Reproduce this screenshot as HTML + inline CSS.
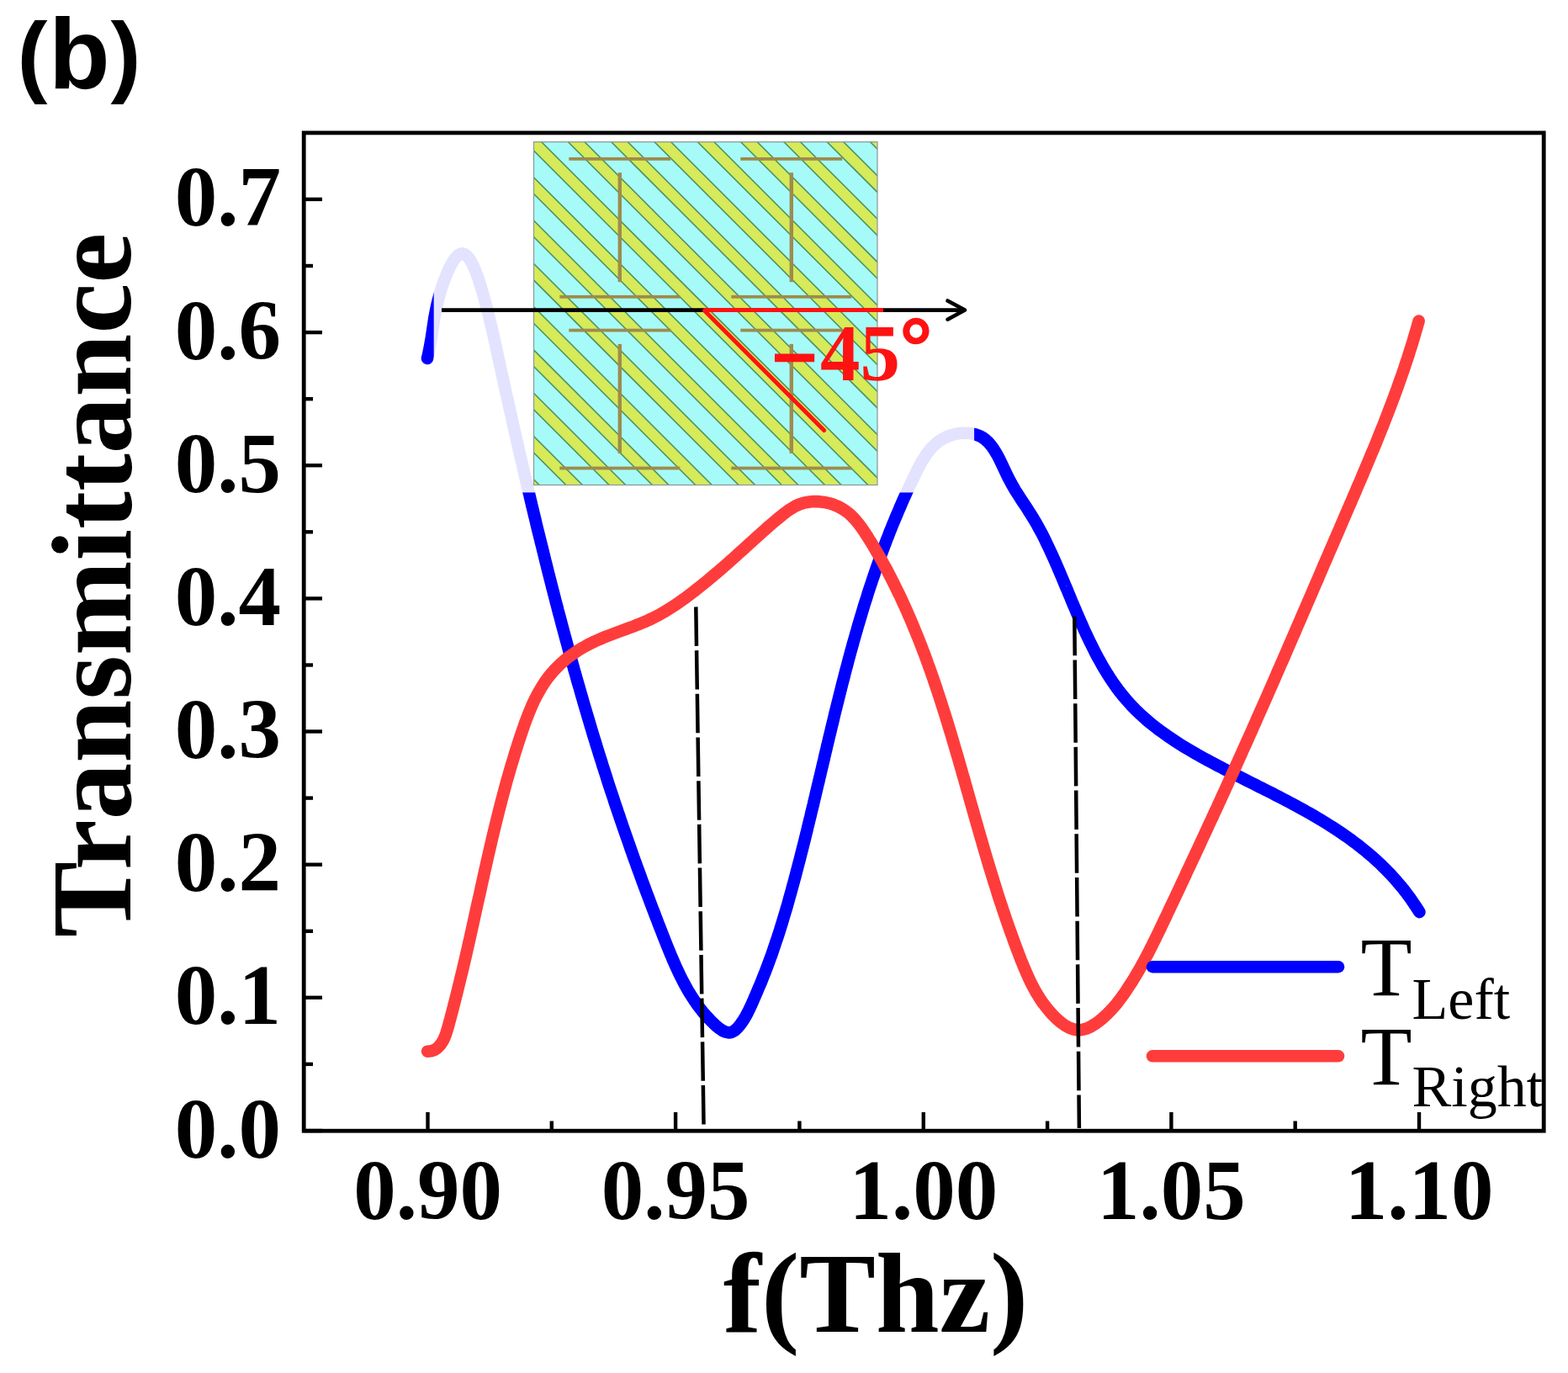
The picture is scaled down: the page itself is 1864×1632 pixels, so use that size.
<!DOCTYPE html>
<html><head><meta charset="utf-8"><title>Transmittance plot</title>
<style>html,body{margin:0;padding:0;background:#fff;}svg{display:block;}</style>
</head><body>
<svg xmlns="http://www.w3.org/2000/svg" width="1864" height="1632" viewBox="0 0 1864 1632">
<defs>
<clipPath id="ins"><rect x="634.5" y="168.7" width="408.5" height="407.8"/></clipPath>
</defs>
<rect x="0" y="0" width="1864" height="1632" fill="#fff"/>
<path d="M508.0,426.0 L509.2,420.9 L510.2,416.0 L511.1,411.3 L511.9,406.8 L512.7,402.5 L513.3,398.4 L513.9,394.3 L514.5,390.3 L515.1,386.3 L515.7,382.3 L516.3,378.2 L517.1,374.1 L517.9,369.8 L518.8,365.4 L519.8,360.9 L521.0,356.1 L522.4,351.0 L523.9,345.8 L525.6,340.5 L527.5,335.1 L529.4,329.8 L531.5,324.8 L533.6,319.9 L535.8,315.5 L538.1,311.5 L540.4,308.0 L542.8,305.2 L545.1,303.0 L547.4,301.8 L549.7,301.4 L552.0,302.0 L554.2,303.4 L556.4,305.6 L558.6,308.5 L560.6,312.1 L562.7,316.1 L564.6,320.6 L566.5,325.4 L568.4,330.6 L570.1,335.9 L571.8,341.3 L573.4,346.7 L575.0,352.1 L576.4,357.4 L577.8,362.5 L579.1,367.4 L580.3,372.3 L581.5,377.0 L582.6,381.6 L583.7,386.2 L584.8,390.7 L585.8,395.1 L586.8,399.5 L587.7,403.8 L588.7,408.2 L589.6,412.5 L590.6,416.8 L591.5,421.1 L592.4,425.4 L593.4,429.7 L594.3,434.1 L595.3,438.4 L596.2,442.7 L597.2,447.1 L598.2,451.4 L599.1,455.7 L600.1,460.1 L601.0,464.5 L602.0,468.8 L603.0,473.2 L604.0,477.5 L604.9,481.9 L605.9,486.3 L606.9,490.6 L607.9,495.0 L608.9,499.4 L609.8,503.8 L610.8,508.2 L611.8,512.6 L612.8,517.0 L613.8,521.3 L614.8,525.7 L615.8,530.1 L616.8,534.5 L617.8,539.0 L618.9,543.4 L619.9,547.8 L620.9,552.2 L621.9,556.6 L622.9,561.0 L624.0,565.4 L625.0,569.9 L626.0,574.3 L627.1,578.7 L628.1,583.1 L629.2,587.5 L630.2,592.0 L631.3,596.4 L632.3,600.8 L633.4,605.3 L634.4,609.7 L635.5,614.1 L636.6,618.6 L637.6,623.0 L638.7,627.4 L639.8,631.9 L640.9,636.3 L642.0,640.7 L643.1,645.2 L644.2,649.6 L645.3,654.1 L646.4,658.5 L647.5,662.9 L648.6,667.4 L649.7,671.8 L650.8,676.3 L651.9,680.7 L653.0,685.1 L654.2,689.6 L655.3,694.0 L656.4,698.5 L657.6,702.9 L658.7,707.3 L659.9,711.8 L661.0,716.2 L662.2,720.6 L663.3,725.1 L664.5,729.5 L665.7,733.9 L666.9,738.4 L668.0,742.8 L669.2,747.2 L670.4,751.7 L671.6,756.1 L672.8,760.5 L674.0,764.9 L675.2,769.3 L676.4,773.8 L677.6,778.2 L678.8,782.6 L680.1,787.0 L681.3,791.4 L682.5,795.8 L683.8,800.2 L685.0,804.6 L686.2,809.0 L687.5,813.4 L688.8,817.8 L690.0,822.2 L691.3,826.6 L692.6,831.0 L693.8,835.4 L695.1,839.8 L696.4,844.1 L697.7,848.5 L699.0,852.9 L700.3,857.2 L701.6,861.6 L702.9,866.0 L704.2,870.3 L705.5,874.7 L706.9,879.0 L708.2,883.4 L709.5,887.7 L710.9,892.1 L712.2,896.4 L713.6,900.7 L715.0,905.0 L716.3,909.4 L717.7,913.7 L719.1,918.0 L720.5,922.3 L721.8,926.6 L723.2,930.9 L724.6,935.2 L726.0,939.5 L727.5,943.8 L728.9,948.1 L730.3,952.4 L731.7,956.7 L733.2,961.0 L734.6,965.2 L736.1,969.5 L737.5,973.8 L739.0,978.1 L740.4,982.3 L741.9,986.6 L743.4,990.9 L744.9,995.2 L746.4,999.4 L747.9,1003.7 L749.4,1008.0 L750.9,1012.2 L752.4,1016.5 L753.9,1020.8 L755.5,1025.0 L757.0,1029.3 L758.6,1033.6 L760.1,1037.8 L761.7,1042.1 L763.2,1046.4 L764.8,1050.6 L766.4,1054.9 L768.0,1059.2 L769.6,1063.5 L771.2,1067.7 L772.8,1072.0 L774.4,1076.3 L776.0,1080.5 L777.7,1084.8 L779.3,1089.1 L781.0,1093.4 L782.6,1097.7 L784.3,1102.0 L786.0,1106.2 L787.6,1110.5 L789.3,1114.8 L791.0,1119.1 L792.7,1123.4 L794.5,1127.7 L796.2,1132.0 L798.0,1136.3 L799.8,1140.5 L801.6,1144.7 L803.5,1148.9 L805.4,1153.1 L807.4,1157.3 L809.4,1161.4 L811.5,1165.5 L813.6,1169.5 L815.8,1173.5 L818.0,1177.5 L820.4,1181.4 L822.8,1185.2 L825.3,1189.0 L827.8,1192.7 L830.5,1196.4 L833.2,1199.9 L836.0,1203.5 L839.0,1206.9 L842.0,1210.2 L845.2,1213.5 L848.4,1216.7 L851.8,1219.8 L855.3,1222.6 L858.8,1225.0 L862.5,1226.7 L866.1,1227.4 L869.8,1226.9 L873.5,1224.9 L877.1,1221.5 L880.6,1217.2 L883.7,1212.6 L886.5,1208.0 L888.9,1203.5 L891.1,1199.1 L893.1,1194.7 L895.0,1190.5 L896.8,1186.2 L898.6,1182.1 L900.4,1177.9 L902.1,1173.8 L903.9,1169.7 L905.6,1165.6 L907.2,1161.4 L908.9,1157.3 L910.5,1153.1 L912.1,1148.9 L913.7,1144.7 L915.2,1140.5 L916.8,1136.2 L918.3,1132.0 L919.7,1127.7 L921.2,1123.4 L922.6,1119.1 L924.1,1114.8 L925.5,1110.5 L926.9,1106.2 L928.2,1101.9 L929.6,1097.5 L930.9,1093.2 L932.2,1088.8 L933.5,1084.5 L934.8,1080.1 L936.1,1075.7 L937.3,1071.3 L938.5,1066.9 L939.8,1062.5 L941.0,1058.1 L942.2,1053.7 L943.4,1049.3 L944.6,1044.9 L945.8,1040.5 L946.9,1036.1 L948.1,1031.6 L949.2,1027.2 L950.4,1022.8 L951.5,1018.4 L952.6,1014.0 L953.8,1009.5 L954.9,1005.1 L956.0,1000.7 L957.1,996.2 L958.2,991.8 L959.3,987.4 L960.3,983.0 L961.4,978.5 L962.5,974.1 L963.6,969.7 L964.6,965.2 L965.7,960.8 L966.8,956.4 L967.8,951.9 L968.9,947.5 L969.9,943.1 L971.0,938.6 L972.0,934.2 L973.1,929.8 L974.1,925.3 L975.2,920.9 L976.2,916.5 L977.3,912.0 L978.3,907.6 L979.4,903.2 L980.4,898.7 L981.4,894.3 L982.5,889.9 L983.5,885.4 L984.6,881.0 L985.6,876.6 L986.7,872.2 L987.8,867.7 L988.8,863.3 L989.9,858.9 L991.0,854.5 L992.0,850.0 L993.1,845.6 L994.2,841.2 L995.3,836.8 L996.4,832.4 L997.5,828.0 L998.6,823.6 L999.7,819.2 L1000.8,814.8 L1001.9,810.4 L1003.1,806.0 L1004.2,801.6 L1005.3,797.2 L1006.5,792.8 L1007.7,788.4 L1008.8,784.0 L1010.0,779.6 L1011.2,775.2 L1012.4,770.8 L1013.6,766.5 L1014.8,762.1 L1016.1,757.7 L1017.3,753.3 L1018.6,749.0 L1019.8,744.6 L1021.1,740.3 L1022.4,735.9 L1023.7,731.6 L1025.0,727.2 L1026.3,722.9 L1027.6,718.5 L1029.0,714.2 L1030.4,709.9 L1031.7,705.5 L1033.1,701.2 L1034.5,696.9 L1036.0,692.6 L1037.4,688.3 L1038.9,684.0 L1040.3,679.7 L1041.8,675.4 L1043.3,671.1 L1044.8,666.8 L1046.4,662.5 L1047.9,658.2 L1049.5,653.9 L1051.1,649.7 L1052.7,645.4 L1054.3,641.1 L1056.0,636.9 L1057.6,632.6 L1059.3,628.4 L1061.0,624.1 L1062.8,619.9 L1064.5,615.7 L1066.3,611.5 L1068.1,607.2 L1069.9,603.0 L1071.7,598.8 L1073.5,594.6 L1075.4,590.4 L1077.3,586.3 L1079.2,582.1 L1081.2,577.9 L1083.2,573.7 L1085.2,569.6 L1087.2,565.4 L1089.2,561.3 L1091.3,557.1 L1093.4,553.1 L1095.6,549.0 L1098.0,545.1 L1100.4,541.3 L1103.0,537.7 L1105.8,534.2 L1108.7,531.0 L1111.9,527.9 L1115.3,525.1 L1119.0,522.6 L1123.0,520.4 L1127.2,518.5 L1131.7,517.0 L1136.3,515.8 L1141.0,515.1 L1145.7,514.7 L1150.5,514.8 L1155.1,515.3 L1159.5,516.3 L1163.7,517.8 L1167.6,519.8 L1171.1,522.3 L1174.4,525.2 L1177.4,528.6 L1180.2,532.2 L1182.8,536.2 L1185.3,540.4 L1187.6,544.7 L1189.8,549.2 L1191.9,553.7 L1194.0,558.2 L1196.1,562.7 L1198.2,567.0 L1200.4,571.2 L1202.6,575.3 L1204.9,579.2 L1207.1,583.1 L1209.5,586.8 L1211.8,590.4 L1214.1,594.0 L1216.5,597.6 L1218.8,601.1 L1221.1,604.6 L1223.4,608.2 L1225.7,611.8 L1227.9,615.4 L1230.1,619.1 L1232.3,622.8 L1234.4,626.6 L1236.5,630.5 L1238.6,634.3 L1240.6,638.3 L1242.6,642.3 L1244.5,646.3 L1246.5,650.4 L1248.4,654.5 L1250.3,658.6 L1252.2,662.8 L1254.1,667.0 L1255.9,671.2 L1257.7,675.4 L1259.6,679.7 L1261.4,684.0 L1263.2,688.3 L1265.0,692.6 L1266.8,697.0 L1268.7,701.3 L1270.5,705.7 L1272.3,710.0 L1274.1,714.4 L1275.9,718.8 L1277.8,723.1 L1279.6,727.5 L1281.5,731.8 L1283.4,736.2 L1285.3,740.5 L1287.2,744.8 L1289.1,749.1 L1291.1,753.4 L1293.1,757.7 L1295.1,761.9 L1297.2,766.1 L1299.3,770.3 L1301.4,774.5 L1303.5,778.6 L1305.7,782.7 L1308.0,786.7 L1310.2,790.7 L1312.6,794.7 L1314.9,798.6 L1317.4,802.5 L1319.8,806.3 L1322.3,810.1 L1324.9,813.8 L1327.5,817.5 L1330.2,821.1 L1333.0,824.6 L1335.8,828.1 L1338.7,831.5 L1341.6,834.8 L1344.6,838.1 L1347.7,841.3 L1350.8,844.5 L1354.0,847.6 L1357.3,850.6 L1360.6,853.5 L1363.9,856.5 L1367.3,859.3 L1370.8,862.1 L1374.3,864.9 L1377.8,867.6 L1381.4,870.2 L1385.1,872.8 L1388.7,875.4 L1392.5,877.9 L1396.2,880.4 L1400.0,882.9 L1403.8,885.3 L1407.7,887.7 L1411.5,890.0 L1415.4,892.3 L1419.4,894.6 L1423.3,896.9 L1427.3,899.1 L1431.3,901.3 L1435.3,903.5 L1439.3,905.7 L1443.3,907.8 L1447.4,910.0 L1451.5,912.1 L1455.5,914.2 L1459.6,916.3 L1463.7,918.4 L1467.8,920.4 L1471.8,922.5 L1475.9,924.6 L1480.0,926.6 L1484.1,928.7 L1488.2,930.7 L1492.3,932.8 L1496.4,934.9 L1500.5,936.9 L1504.5,939.0 L1508.6,941.0 L1512.7,943.1 L1516.7,945.2 L1520.8,947.3 L1524.8,949.4 L1528.9,951.5 L1532.9,953.6 L1536.9,955.7 L1540.9,957.9 L1544.9,960.1 L1548.8,962.2 L1552.8,964.5 L1556.7,966.7 L1560.7,968.9 L1564.6,971.2 L1568.4,973.5 L1572.3,975.8 L1576.1,978.2 L1580.0,980.6 L1583.8,983.0 L1587.5,985.4 L1591.3,987.9 L1595.0,990.4 L1598.7,993.0 L1602.4,995.5 L1606.0,998.2 L1609.6,1000.8 L1613.2,1003.5 L1616.7,1006.3 L1620.2,1009.1 L1623.7,1011.9 L1627.2,1014.8 L1630.6,1017.7 L1633.9,1020.7 L1637.3,1023.7 L1640.6,1026.8 L1643.8,1029.9 L1647.0,1033.1 L1650.2,1036.3 L1653.4,1039.6 L1656.4,1043.0 L1659.5,1046.4 L1662.5,1049.9 L1665.5,1053.4 L1668.4,1057.0 L1671.2,1060.7 L1674.0,1064.4 L1676.8,1068.2 L1679.5,1072.1 L1682.2,1076.1 L1684.8,1080.1 L1687.4,1084.2" fill="none" stroke="#0000ff" stroke-width="14.6" stroke-linecap="round" stroke-linejoin="round"/>
<rect x="515.7" y="162" width="642.4" height="423.4" fill="#fff" fill-opacity="0.89"/>
<g clip-path="url(#ins)">
<rect x="634.5" y="168.7" width="408.5" height="407.8" fill="#a6fbf8"/>
<path d="M143.7,150 L163.3,150 L613.3,600 L593.7,600 Z M195.0,150 L214.6,150 L664.6,600 L645.0,600 Z M246.3,150 L265.9,150 L715.9,600 L696.3,600 Z M297.6,150 L317.2,150 L767.2,600 L747.6,600 Z M348.9,150 L368.5,150 L818.5,600 L798.9,600 Z M400.2,150 L419.8,150 L869.8,600 L850.2,600 Z M451.5,150 L471.1,150 L921.1,600 L901.5,600 Z M502.8,150 L522.4,150 L972.4,600 L952.8,600 Z M554.1,150 L573.7,150 L1023.7,600 L1004.1,600 Z M605.4,150 L625.0,150 L1075.0,600 L1055.4,600 Z M656.7,150 L676.3,150 L1126.3,600 L1106.7,600 Z M708.0,150 L727.6,150 L1177.6,600 L1158.0,600 Z M759.3,150 L778.9,150 L1228.9,600 L1209.3,600 Z M810.6,150 L830.2,150 L1280.2,600 L1260.6,600 Z M861.9,150 L881.5,150 L1331.5,600 L1311.9,600 Z M913.2,150 L932.8,150 L1382.8,600 L1363.2,600 Z M964.5,150 L984.1,150 L1434.1,600 L1414.5,600 Z M1015.8,150 L1035.4,150 L1485.4,600 L1465.8,600 Z M1067.1,150 L1086.7,150 L1536.7,600 L1517.1,600 Z M1118.4,150 L1138.0,150 L1588.0,600 L1568.4,600 Z M1169.7,150 L1189.3,150 L1639.3,600 L1619.7,600 Z M1221.0,150 L1240.6,150 L1690.6,600 L1671.0,600 Z" fill="#d6ea5a" stroke="#4f9462" stroke-width="1.6"/>
<rect x="676.3" y="187.0" width="121" height="3.8" fill="#9e8b4c"/>
<rect x="734.6" y="205.2" width="4.4" height="130" fill="#9e8b4c"/>
<rect x="665.3" y="350.9" width="143" height="3.8" fill="#9e8b4c"/>
<rect x="676.3" y="390.7" width="121" height="3.8" fill="#9e8b4c"/>
<rect x="734.6" y="408.9" width="4.4" height="130" fill="#9e8b4c"/>
<rect x="665.3" y="554.6" width="143" height="3.8" fill="#9e8b4c"/>
<rect x="880.3" y="187.0" width="121" height="3.8" fill="#9e8b4c"/>
<rect x="938.6" y="205.2" width="4.4" height="130" fill="#9e8b4c"/>
<rect x="869.3" y="350.9" width="143" height="3.8" fill="#9e8b4c"/>
<rect x="880.3" y="390.7" width="121" height="3.8" fill="#9e8b4c"/>
<rect x="938.6" y="408.9" width="4.4" height="130" fill="#9e8b4c"/>
<rect x="869.3" y="554.6" width="143" height="3.8" fill="#9e8b4c"/>
</g>
<rect x="634.5" y="168.7" width="408.5" height="407.8" fill="none" stroke="#8f9c9a" stroke-width="1.3"/>
<line x1="525" y1="368.6" x2="1146" y2="368.6" stroke="#000" stroke-width="4.6"/>
<path d="M1126.5,357.5 L1147,368.6 L1126.5,379.7" fill="none" stroke="#000" stroke-width="4.6" stroke-linecap="round" stroke-linejoin="round"/>
<line x1="837.3" y1="368.4" x2="1050" y2="368.4" stroke="#ff1212" stroke-width="5"/>
<line x1="837.5" y1="369.2" x2="979.6" y2="511.5" stroke="#ff1212" stroke-width="5" stroke-linecap="round"/>
<text x="917.5" y="457" font-family="'Liberation Serif','Times New Roman',serif" font-weight="bold" font-size="95" fill="#ff1212" stroke="#ff1212" stroke-width="3">&#8722;</text>
<text x="975" y="452" font-family="'Liberation Serif','Times New Roman',serif" font-weight="bold" font-size="95" fill="#ff1212">45<tspan dy="-9" stroke="#ff1212" stroke-width="2.5">&#176;</tspan></text>
<path d="M508.1,1249.7 L512.6,1249.3 L516.6,1247.9 L519.9,1245.7 L522.7,1242.8 L525.1,1239.6 L527.2,1236.0 L528.9,1232.2 L530.4,1228.2 L531.7,1224.0 L532.9,1219.8 L534.0,1215.6 L535.2,1211.4 L536.3,1207.2 L537.4,1203.1 L538.5,1198.9 L539.5,1194.7 L540.6,1190.6 L541.6,1186.5 L542.7,1182.3 L543.7,1178.2 L544.7,1174.1 L545.7,1170.0 L546.7,1165.9 L547.7,1161.8 L548.7,1157.8 L549.7,1153.7 L550.7,1149.6 L551.6,1145.5 L552.6,1141.5 L553.5,1137.4 L554.5,1133.3 L555.4,1129.2 L556.3,1125.2 L557.2,1121.1 L558.2,1117.0 L559.1,1112.9 L560.0,1108.8 L560.9,1104.7 L561.8,1100.7 L562.7,1096.6 L563.6,1092.5 L564.5,1088.3 L565.4,1084.2 L566.3,1080.1 L567.2,1076.0 L568.1,1071.9 L569.1,1067.8 L570.0,1063.7 L570.9,1059.6 L571.8,1055.4 L572.7,1051.3 L573.6,1047.2 L574.5,1043.1 L575.4,1039.0 L576.3,1034.8 L577.3,1030.7 L578.2,1026.6 L579.1,1022.5 L580.1,1018.3 L581.0,1014.2 L582.0,1010.1 L582.9,1005.9 L583.9,1001.8 L584.8,997.7 L585.8,993.6 L586.8,989.5 L587.8,985.3 L588.8,981.2 L589.8,977.1 L590.8,973.0 L591.8,968.9 L592.9,964.7 L593.9,960.6 L595.0,956.5 L596.0,952.4 L597.1,948.3 L598.2,944.2 L599.3,940.1 L600.4,936.0 L601.5,931.9 L602.6,927.8 L603.8,923.7 L605.0,919.6 L606.1,915.6 L607.3,911.5 L608.5,907.4 L609.8,903.4 L611.0,899.3 L612.2,895.2 L613.5,891.2 L614.8,887.1 L616.1,883.1 L617.4,879.0 L618.8,875.0 L620.1,871.0 L621.5,866.9 L622.9,862.9 L624.3,858.9 L625.8,855.0 L627.3,851.0 L628.8,847.1 L630.5,843.2 L632.1,839.3 L633.8,835.5 L635.6,831.7 L637.5,828.0 L639.5,824.3 L641.5,820.7 L643.6,817.1 L645.8,813.6 L648.1,810.1 L650.5,806.8 L653.0,803.5 L655.7,800.3 L658.4,797.1 L661.3,794.1 L664.3,791.1 L667.4,788.2 L670.6,785.4 L673.9,782.7 L677.2,780.1 L680.7,777.6 L684.2,775.2 L687.8,772.8 L691.5,770.6 L695.2,768.5 L698.9,766.4 L702.7,764.5 L706.5,762.6 L710.4,760.9 L714.3,759.2 L718.2,757.6 L722.1,756.0 L726.1,754.5 L730.0,753.0 L734.0,751.5 L738.0,750.0 L741.9,748.6 L745.9,747.1 L749.9,745.7 L753.8,744.2 L757.7,742.6 L761.6,741.1 L765.5,739.5 L769.3,737.8 L773.2,736.0 L776.9,734.2 L780.7,732.3 L784.4,730.3 L788.0,728.2 L791.7,726.1 L795.2,723.9 L798.8,721.6 L802.3,719.3 L805.8,716.9 L809.3,714.5 L812.8,712.1 L816.2,709.6 L819.6,707.0 L822.9,704.5 L826.3,701.9 L829.6,699.3 L832.9,696.6 L836.2,694.0 L839.5,691.3 L842.8,688.6 L846.0,685.9 L849.2,683.2 L852.5,680.5 L855.7,677.7 L858.9,674.9 L862.0,672.2 L865.2,669.4 L868.4,666.6 L871.5,663.8 L874.7,661.0 L877.8,658.1 L881.0,655.3 L884.1,652.5 L887.2,649.7 L890.3,646.8 L893.5,644.0 L896.6,641.2 L899.7,638.3 L902.9,635.5 L906.0,632.7 L909.2,629.8 L912.3,627.0 L915.5,624.2 L918.7,621.5 L922.0,618.7 L925.3,616.0 L928.6,613.3 L931.9,610.6 L935.4,608.0 L938.9,605.6 L942.5,603.3 L946.2,601.2 L950.1,599.5 L954.1,598.2 L958.3,597.2 L962.6,596.5 L966.9,596.1 L971.2,596.1 L975.5,596.4 L979.9,596.9 L984.1,597.8 L988.3,598.9 L992.4,600.4 L996.3,602.0 L1000.0,604.0 L1003.6,606.2 L1007.0,608.6 L1010.2,611.2 L1013.2,614.1 L1016.1,617.1 L1018.8,620.2 L1021.4,623.5 L1023.9,626.9 L1026.4,630.4 L1028.7,634.0 L1031.1,637.6 L1033.3,641.2 L1035.6,644.8 L1037.8,648.5 L1040.0,652.1 L1042.1,655.8 L1044.3,659.5 L1046.4,663.2 L1048.5,666.9 L1050.5,670.6 L1052.6,674.3 L1054.6,678.0 L1056.5,681.8 L1058.5,685.5 L1060.4,689.3 L1062.3,693.1 L1064.2,696.9 L1066.1,700.7 L1067.9,704.5 L1069.8,708.3 L1071.6,712.1 L1073.3,715.9 L1075.1,719.8 L1076.8,723.6 L1078.6,727.5 L1080.2,731.3 L1081.9,735.2 L1083.6,739.1 L1085.2,743.0 L1086.8,746.8 L1088.4,750.7 L1090.0,754.7 L1091.6,758.6 L1093.1,762.5 L1094.7,766.4 L1096.2,770.4 L1097.7,774.3 L1099.2,778.2 L1100.7,782.2 L1102.1,786.2 L1103.5,790.1 L1105.0,794.1 L1106.4,798.1 L1107.8,802.1 L1109.2,806.0 L1110.5,810.0 L1111.9,814.0 L1113.3,818.0 L1114.6,822.1 L1115.9,826.1 L1117.2,830.1 L1118.5,834.1 L1119.8,838.1 L1121.1,842.2 L1122.4,846.2 L1123.7,850.2 L1124.9,854.3 L1126.2,858.3 L1127.4,862.4 L1128.6,866.4 L1129.9,870.5 L1131.1,874.5 L1132.3,878.6 L1133.5,882.6 L1134.7,886.7 L1135.9,890.8 L1137.1,894.8 L1138.3,898.9 L1139.5,903.0 L1140.6,907.0 L1141.8,911.1 L1143.0,915.2 L1144.1,919.3 L1145.3,923.3 L1146.5,927.4 L1147.6,931.5 L1148.8,935.6 L1149.9,939.6 L1151.1,943.7 L1152.2,947.8 L1153.4,951.9 L1154.5,955.9 L1155.7,960.0 L1156.9,964.1 L1158.0,968.2 L1159.2,972.3 L1160.3,976.3 L1161.5,980.4 L1162.7,984.5 L1163.8,988.5 L1165.0,992.6 L1166.2,996.7 L1167.4,1000.7 L1168.5,1004.8 L1169.7,1008.9 L1170.9,1012.9 L1172.1,1017.0 L1173.3,1021.0 L1174.5,1025.1 L1175.7,1029.1 L1177.0,1033.2 L1178.2,1037.2 L1179.4,1041.2 L1180.7,1045.3 L1181.9,1049.3 L1183.2,1053.3 L1184.5,1057.4 L1185.7,1061.4 L1187.0,1065.4 L1188.3,1069.4 L1189.6,1073.4 L1191.0,1077.4 L1192.3,1081.4 L1193.6,1085.4 L1195.0,1089.4 L1196.3,1093.4 L1197.7,1097.4 L1199.1,1101.4 L1200.5,1105.4 L1201.9,1109.3 L1203.4,1113.3 L1204.8,1117.2 L1206.2,1121.2 L1207.7,1125.1 L1209.2,1129.1 L1210.7,1133.0 L1212.2,1137.0 L1213.7,1140.9 L1215.3,1144.8 L1216.9,1148.7 L1218.5,1152.6 L1220.2,1156.5 L1221.9,1160.3 L1223.6,1164.1 L1225.5,1167.9 L1227.4,1171.7 L1229.4,1175.4 L1231.4,1179.1 L1233.6,1182.7 L1235.9,1186.4 L1238.2,1189.9 L1240.7,1193.4 L1243.4,1196.9 L1246.1,1200.3 L1249.0,1203.6 L1252.0,1206.9 L1255.2,1210.1 L1258.5,1213.1 L1261.9,1215.9 L1265.4,1218.4 L1269.1,1220.6 L1272.8,1222.3 L1276.5,1223.5 L1280.3,1224.2 L1284.2,1224.2 L1288.0,1223.6 L1291.9,1222.4 L1295.7,1220.8 L1299.4,1218.7 L1303.1,1216.3 L1306.7,1213.7 L1310.2,1210.8 L1313.6,1207.8 L1316.8,1204.7 L1319.9,1201.5 L1322.8,1198.3 L1325.7,1195.1 L1328.4,1191.8 L1331.0,1188.4 L1333.5,1185.0 L1336.0,1181.6 L1338.4,1178.1 L1340.7,1174.6 L1343.0,1171.1 L1345.3,1167.6 L1347.5,1164.0 L1349.7,1160.4 L1351.8,1156.8 L1353.9,1153.2 L1356.0,1149.5 L1358.0,1145.8 L1360.0,1142.1 L1362.0,1138.4 L1364.0,1134.7 L1365.9,1130.9 L1367.8,1127.2 L1369.7,1123.4 L1371.6,1119.6 L1373.5,1115.9 L1375.3,1112.1 L1377.2,1108.3 L1379.0,1104.5 L1380.8,1100.6 L1382.6,1096.8 L1384.4,1093.0 L1386.3,1089.2 L1388.1,1085.3 L1389.9,1081.5 L1391.7,1077.7 L1393.5,1073.9 L1395.3,1070.1 L1397.1,1066.2 L1398.9,1062.4 L1400.7,1058.6 L1402.5,1054.8 L1404.3,1050.9 L1406.1,1047.1 L1407.9,1043.3 L1409.7,1039.4 L1411.4,1035.6 L1413.2,1031.8 L1415.0,1028.0 L1416.8,1024.1 L1418.6,1020.3 L1420.4,1016.5 L1422.2,1012.6 L1424.0,1008.8 L1425.8,1005.0 L1427.5,1001.2 L1429.3,997.3 L1431.1,993.5 L1432.9,989.7 L1434.7,985.8 L1436.4,982.0 L1438.2,978.2 L1440.0,974.3 L1441.8,970.5 L1443.5,966.6 L1445.3,962.8 L1447.1,959.0 L1448.8,955.1 L1450.6,951.3 L1452.3,947.5 L1454.1,943.6 L1455.9,939.8 L1457.6,935.9 L1459.4,932.1 L1461.1,928.2 L1462.9,924.4 L1464.6,920.5 L1466.4,916.7 L1468.1,912.8 L1469.9,909.0 L1471.6,905.1 L1473.3,901.3 L1475.1,897.4 L1476.8,893.6 L1478.5,889.7 L1480.3,885.9 L1482.0,882.0 L1483.7,878.2 L1485.4,874.3 L1487.2,870.5 L1488.9,866.6 L1490.6,862.7 L1492.3,858.9 L1494.0,855.0 L1495.7,851.1 L1497.4,847.3 L1499.2,843.4 L1500.9,839.6 L1502.6,835.7 L1504.3,831.8 L1506.0,828.0 L1507.7,824.1 L1509.4,820.2 L1511.1,816.3 L1512.8,812.5 L1514.5,808.6 L1516.2,804.7 L1517.8,800.9 L1519.5,797.0 L1521.2,793.1 L1522.9,789.2 L1524.6,785.4 L1526.3,781.5 L1528.0,777.6 L1529.7,773.7 L1531.3,769.9 L1533.0,766.0 L1534.7,762.1 L1536.4,758.2 L1538.1,754.3 L1539.8,750.5 L1541.4,746.6 L1543.1,742.7 L1544.8,738.8 L1546.5,734.9 L1548.1,731.1 L1549.8,727.2 L1551.5,723.3 L1553.2,719.4 L1554.8,715.5 L1556.5,711.7 L1558.2,707.8 L1559.9,703.9 L1561.5,700.0 L1563.2,696.1 L1564.9,692.2 L1566.6,688.4 L1568.2,684.5 L1569.9,680.6 L1571.6,676.7 L1573.2,672.8 L1574.9,668.9 L1576.6,665.1 L1578.3,661.2 L1579.9,657.3 L1581.6,653.4 L1583.3,649.5 L1585.0,645.6 L1586.6,641.7 L1588.3,637.9 L1590.0,634.0 L1591.7,630.1 L1593.3,626.2 L1595.0,622.3 L1596.7,618.4 L1598.4,614.5 L1600.0,610.7 L1601.7,606.8 L1603.4,602.9 L1605.1,599.0 L1606.8,595.1 L1608.4,591.2 L1610.1,587.4 L1611.8,583.5 L1613.4,579.6 L1615.1,575.7 L1616.8,571.8 L1618.4,567.9 L1620.1,564.0 L1621.7,560.1 L1623.4,556.2 L1625.0,552.3 L1626.7,548.4 L1628.3,544.5 L1629.9,540.6 L1631.5,536.7 L1633.2,532.8 L1634.8,528.9 L1636.4,525.0 L1638.0,521.1 L1639.5,517.2 L1641.1,513.2 L1642.7,509.3 L1644.3,505.4 L1645.8,501.5 L1647.3,497.5 L1648.9,493.6 L1650.4,489.6 L1651.9,485.7 L1653.4,481.8 L1654.9,477.8 L1656.4,473.9 L1657.9,469.9 L1659.3,465.9 L1660.8,462.0 L1662.2,458.0 L1663.6,454.0 L1665.0,450.0 L1666.4,446.1 L1667.8,442.1 L1669.2,438.1 L1670.5,434.1 L1671.8,430.1 L1673.2,426.1 L1674.5,422.1 L1675.7,418.0 L1677.0,414.0 L1678.3,410.0 L1679.5,406.0 L1680.7,401.9 L1681.9,397.9 L1683.1,393.8 L1684.3,389.8 L1685.4,385.7 L1686.6,381.6" fill="none" stroke="#ff3c3c" stroke-width="14.6" stroke-linecap="round" stroke-linejoin="round"/>
<line x1="827.3" y1="721.4" x2="836.6" y2="1341" stroke="#000" stroke-width="4.5" stroke-dasharray="46.5 5.2"/>
<line x1="1277.3" y1="732.8" x2="1282.9" y2="1341" stroke="#000" stroke-width="4.5" stroke-dasharray="46.5 5.2"/>
<rect x="361.2" y="157.9" width="1474" height="1186.3" fill="none" stroke="#000" stroke-width="4.8"/>
<line x1="361" y1="1344.0" x2="383.0" y2="1344.0" stroke="#000" stroke-width="4.4"/>
<line x1="361" y1="1264.9" x2="372.0" y2="1264.9" stroke="#000" stroke-width="4.4"/>
<line x1="361" y1="1185.8" x2="383.0" y2="1185.8" stroke="#000" stroke-width="4.4"/>
<line x1="361" y1="1106.8" x2="372.0" y2="1106.8" stroke="#000" stroke-width="4.4"/>
<line x1="361" y1="1027.7" x2="383.0" y2="1027.7" stroke="#000" stroke-width="4.4"/>
<line x1="361" y1="948.6" x2="372.0" y2="948.6" stroke="#000" stroke-width="4.4"/>
<line x1="361" y1="869.5" x2="383.0" y2="869.5" stroke="#000" stroke-width="4.4"/>
<line x1="361" y1="790.5" x2="372.0" y2="790.5" stroke="#000" stroke-width="4.4"/>
<line x1="361" y1="711.4" x2="383.0" y2="711.4" stroke="#000" stroke-width="4.4"/>
<line x1="361" y1="632.3" x2="372.0" y2="632.3" stroke="#000" stroke-width="4.4"/>
<line x1="361" y1="553.2" x2="383.0" y2="553.2" stroke="#000" stroke-width="4.4"/>
<line x1="361" y1="474.2" x2="372.0" y2="474.2" stroke="#000" stroke-width="4.4"/>
<line x1="361" y1="395.1" x2="383.0" y2="395.1" stroke="#000" stroke-width="4.4"/>
<line x1="361" y1="316.0" x2="372.0" y2="316.0" stroke="#000" stroke-width="4.4"/>
<line x1="361" y1="236.9" x2="383.0" y2="236.9" stroke="#000" stroke-width="4.4"/>
<line x1="508.5" y1="1344" x2="508.5" y2="1322.0" stroke="#000" stroke-width="4.4"/>
<line x1="655.8" y1="1344" x2="655.8" y2="1332.5" stroke="#000" stroke-width="4.4"/>
<line x1="803.1" y1="1344" x2="803.1" y2="1322.0" stroke="#000" stroke-width="4.4"/>
<line x1="950.4" y1="1344" x2="950.4" y2="1332.5" stroke="#000" stroke-width="4.4"/>
<line x1="1097.8" y1="1344" x2="1097.8" y2="1322.0" stroke="#000" stroke-width="4.4"/>
<line x1="1245.1" y1="1344" x2="1245.1" y2="1332.5" stroke="#000" stroke-width="4.4"/>
<line x1="1392.4" y1="1344" x2="1392.4" y2="1322.0" stroke="#000" stroke-width="4.4"/>
<line x1="1539.7" y1="1344" x2="1539.7" y2="1332.5" stroke="#000" stroke-width="4.4"/>
<line x1="1687.0" y1="1344" x2="1687.0" y2="1322.0" stroke="#000" stroke-width="4.4"/>
<text x="334" y="1375.5" text-anchor="end" font-family="'Liberation Serif','Times New Roman',serif" font-weight="bold" font-size="101">0.0</text>
<text x="334" y="1217.3" text-anchor="end" font-family="'Liberation Serif','Times New Roman',serif" font-weight="bold" font-size="101">0.1</text>
<text x="334" y="1059.2" text-anchor="end" font-family="'Liberation Serif','Times New Roman',serif" font-weight="bold" font-size="101">0.2</text>
<text x="334" y="901.0" text-anchor="end" font-family="'Liberation Serif','Times New Roman',serif" font-weight="bold" font-size="101">0.3</text>
<text x="334" y="742.9" text-anchor="end" font-family="'Liberation Serif','Times New Roman',serif" font-weight="bold" font-size="101">0.4</text>
<text x="334" y="584.8" text-anchor="end" font-family="'Liberation Serif','Times New Roman',serif" font-weight="bold" font-size="101">0.5</text>
<text x="334" y="426.6" text-anchor="end" font-family="'Liberation Serif','Times New Roman',serif" font-weight="bold" font-size="101">0.6</text>
<text x="334" y="268.4" text-anchor="end" font-family="'Liberation Serif','Times New Roman',serif" font-weight="bold" font-size="101">0.7</text>
<text x="508.5" y="1448.6" text-anchor="middle" font-family="'Liberation Serif','Times New Roman',serif" font-weight="bold" font-size="101">0.90</text>
<text x="803.1" y="1448.6" text-anchor="middle" font-family="'Liberation Serif','Times New Roman',serif" font-weight="bold" font-size="101">0.95</text>
<text x="1097.8" y="1448.6" text-anchor="middle" font-family="'Liberation Serif','Times New Roman',serif" font-weight="bold" font-size="101">1.00</text>
<text x="1392.4" y="1448.6" text-anchor="middle" font-family="'Liberation Serif','Times New Roman',serif" font-weight="bold" font-size="101">1.05</text>
<text x="1687.0" y="1448.6" text-anchor="middle" font-family="'Liberation Serif','Times New Roman',serif" font-weight="bold" font-size="101">1.10</text>
<text x="1041" y="1583.4" text-anchor="middle" font-family="'Liberation Serif','Times New Roman',serif" font-weight="bold" font-size="136">f(Thz)</text>
<text transform="translate(154.5,695.4) rotate(-90)" text-anchor="middle" font-family="'Liberation Serif','Times New Roman',serif" font-weight="bold" font-size="135">Transmittance</text>
<text font-family="'Liberation Sans',Arial,sans-serif" font-weight="bold"><tspan x="20.4" y="101.5" font-size="108">(</tspan><tspan x="58" y="104.6" font-size="119">b</tspan><tspan x="131.6" y="101.5" font-size="108">)</tspan></text>
<line x1="1370" y1="1149.2" x2="1591" y2="1149.2" stroke="#0000ff" stroke-width="14.6" stroke-linecap="round"/>
<line x1="1370" y1="1255.3" x2="1591" y2="1255.3" stroke="#ff3c3c" stroke-width="14.6" stroke-linecap="round"/>
<text x="1617.5" y="1182.8" font-family="'Liberation Serif','Times New Roman',serif" font-size="100">T<tspan font-size="70" dy="27.8">Left</tspan></text>
<text x="1617.5" y="1288.7" font-family="'Liberation Serif','Times New Roman',serif" font-size="100">T<tspan font-size="70" dy="26.3">Right</tspan></text>
</svg>
</body></html>
